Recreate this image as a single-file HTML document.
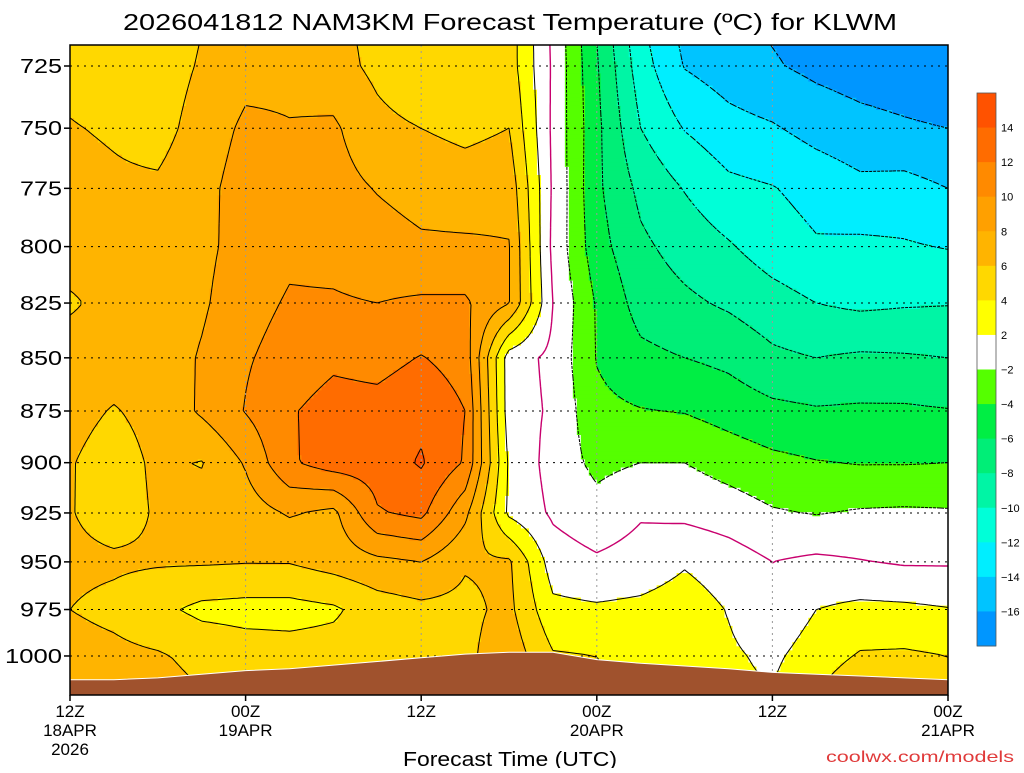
<!DOCTYPE html>
<html><head><meta charset="utf-8"><style>
html,body{margin:0;padding:0;background:#fff;}
svg text{font-family:"Liberation Sans",sans-serif;}
</style></head><body>
<svg id="chart" width="1024" height="768" xmlns="http://www.w3.org/2000/svg">
<rect width="1024" height="768" fill="#fff"/>
<text x="510" y="30" font-size="23" text-anchor="middle" fill="#000" textLength="774" lengthAdjust="spacingAndGlyphs">2026041812 NAM3KM Forecast Temperature (ºC) for KLWM</text>
<defs><clipPath id="plotclip"><rect x="70" y="45" width="878" height="650"/></clipPath></defs>
<g id="field" clip-path="url(#plotclip)"></g>
<g id="contours" clip-path="url(#plotclip)"></g>
<g id="grid"></g>
<g id="terrain" clip-path="url(#plotclip)"></g>
<rect x="70" y="45" width="878" height="650" fill="none" stroke="#000" stroke-width="1.5"/>
<g id="yaxis"></g>
<g id="xaxis"></g>
<text x="510" y="766" font-size="20" text-anchor="middle" fill="#000" textLength="214" lengthAdjust="spacingAndGlyphs">Forecast Time (UTC)</text>
<text x="826" y="762" font-size="16" fill="#e03a3a" font-family="Liberation Mono, monospace" textLength="188" lengthAdjust="spacingAndGlyphs">coolwx.com/models</text>
<g id="colorbar"></g>
</svg>
<script>
const times=[0,3,6,9,12,15,18,21,24,27,30,33,36,39,42,45,48,51,54,57,60];
const pressures=[700,725,750,775,800,825,850,875,900,925,950,975,1000,1025];
const t700=[5.0,4.8,4.8,5.8,7.0,7.2,6.5,5.2,4.0,4.2,5.0,-0.5,-6.3,-12,-15,-16,-16.5,-17,-17.5,-18,-18.5];
const t725=[5.5,5,5,6.2,7.3,7.5,6.8,5.5,4.2,4.5,5.0,-0.3,-5.8,-11.1,-14.1,-15,-15.8,-16.5,-17,-17.3,-17.8];
const t750=[6.1,5.8,5.3,6.8,8.4,8.1,8.3,6.6,6.0,5.5,6.0,-0.4,-5.5,-10,-12.1,-13.3,-13.8,-14.7,-15.3,-15.7,-16.0];
const t775=[6.6,6.3,6.3,7.3,9.0,8.8,8.7,7.9,7.3,7.0,7.3,-0.3,-5.6,-8.5,-10.1,-11.5,-11.9,-12.7,-13.5,-13.3,-14.0];
const t800=[6.7,6.6,6.7,7.5,8.8,9.6,9.4,8.8,8.3,8.3,8.1,-0.5,-5.2,-7.6,-8.8,-9.8,-11,-11.8,-11.6,-11.8,-12.1];
const t825=[5.8,6.5,6.7,7.7,9.3,10.2,10.2,10.0,10.3,10.3,8.1,0,-4.2,-6.8,-7.6,-8.3,-9.2,-10.0,-10.4,-10.2,-10.1];
const t850=[6.7,6.7,6.8,8.2,9.8,10.8,11.6,11.3,12.1,11.2,1.0,-0.5,-4.1,-5.5,-6.0,-6.5,-7.6,-8,-7.7,-7.8,-8];
const t875=[6.5,5.9,6.5,8.3,10.1,11.8,12.8,12.7,13.5,12.0,1.0,-0.3,-3.5,-3.9,-4.1,-4.8,-5.5,-5.8,-5.7,-5.7,-5.9];
const t900=[6.1,5.3,6.3,5.9,8.2,11.7,13,13,14.2,11.8,1.7,-0.8,-2.5,-2.0,-2.0,-2.8,-3.5,-3.9,-4.1,-4.1,-4.0];
const t925=[6.1,5.2,6.2,6.8,7.0,8.2,7.5,11.8,12.5,8.5,1.6,-0.3,-1.3,-0.2,-0.5,-1.0,-1.8,-2.1,-1.8,-1.7,-1.8];
const t950=[6.4,6.3,6.2,6.2,6.1,6.1,6.8,7.5,8.0,6.2,6.3,1.0,0.3,0.8,1.8,1.0,0.0,0.4,0.1,-0.2,-0.2];
const t975=[6.0,5.5,4.5,3.5,3.3,3.3,3.7,5.0,5.5,5.5,6.5,2.5,2.3,2.5,3.0,1.9,0.5,2.0,2.5,2.4,2.1];
const t1000=[6.8,6.5,6.2,5.5,5.0,4.8,4.8,4.8,5.0,5.5,7.3,4.2,4.0,3.0,2.7,2.3,1.6,3.0,4.2,4.3,4.0];
const t1025=[7.5,8.0,6.8,6.2,5.5,5.2,5.0,5.0,5.2,5.8,7.5,4.6,4.5,3.5,3.0,2.5,2.2,4.2,6.0,5.0,4.5];
const temps=[t700,t725,t750,t775,t800,t825,t850,t875,t900,t925,t950,t975,t1000,t1025];
const surfacePressure=[1013,1013,1012,1010,1008,1007,1005,1003,1001,999,998,998,1002,1004,1005.5,1007,1009,1010,1011,1012,1013];
const yTicks=[725,750,775,800,825,850,875,900,925,950,975,1000];
const xTickHours=[0,12,24,36,48,60];
const xTickLabels=[["12Z","18APR","2026"],["00Z","19APR"],["12Z"],["00Z","20APR"],["12Z"],["00Z","21APR"]];
const cbLabels=["14","12","10","8","6","4","2","−2","−4","−6","−8","−10","−12","−14","−16"];

const NS="http://www.w3.org/2000/svg";
const X0=70,X1=948,Y0=45,Y1=695;
function xOf(t){return X0+t*(X1-X0)/60;}
function yOf(p){return 66+1834.6*(Math.log(p)-Math.log(725));}
const rowY=pressures.map(yOf);
function valAt(x,y){
  let t=(x-X0)/(X1-X0)*60;
  let i=Math.min(times.length-2,Math.max(0,Math.floor(t/3)));
  let fx=(t-times[i])/3;
  let j=0;while(j<rowY.length-2&&y>rowY[j+1])j++;
  let fy=(y-rowY[j])/(rowY[j+1]-rowY[j]);
  const a=temps[j][i],b=temps[j][i+1],c=temps[j+1][i],d=temps[j+1][i+1];
  return (a*(1-fx)+b*fx)*(1-fy)+(c*(1-fx)+d*fx)*fy;
}
const warm=['#ffff00','#ffd800','#ffb400','#ffa000','#ff8a00','#ff6c00','#ff5200'];
const cold=['#55ff00','#00ee44','#00ee77','#00f5a5','#00ffd8','#00eeff','#00c4ff','#0096ff'];
function colorOf(v){
  if(v>=-2&&v<2)return '#ffffff';
  if(v>=2)return warm[Math.min(6,Math.floor((v-2)/2))];
  return cold[Math.min(7,Math.floor((-2-v)/2))];
}
function mk(tag,attrs,parent){const e=document.createElementNS(NS,tag);for(const k in attrs)e.setAttribute(k,attrs[k]);parent.appendChild(e);return e;}

const field=document.getElementById('field');
const NX=220,NY=160,dx=(X1-X0)/NX,dy=(Y1-Y0)/NY;
for(let r=0;r<NY;r++){
  let y=Y0+(r+0.5)*dy;let start=0;let cur=colorOf(valAt(X0+0.5*dx,y));
  for(let c=1;c<=NX;c++){
    const col=c<NX?colorOf(valAt(X0+(c+0.5)*dx,y)):null;
    if(col!==cur){
      const e=mk('rect',{x:(X0+start*dx).toFixed(2),y:(Y0+r*dy).toFixed(2),width:((c-start)*dx+0.6).toFixed(2),height:(dy+0.6).toFixed(2),fill:cur},field);
      
      
      start=c;cur=col;
    }
  }
}
const nodes=[];
for(let r=0;r<=NY;r++){const row=[];for(let c=0;c<=NX;c++)row.push(valAt(X0+c*dx,Y0+r*dy));nodes.push(row);}
const cg=document.getElementById('contours');
for(let L=-16;L<=14;L+=2){
  let d='';
  for(let r=0;r<NY;r++)for(let c=0;c<NX;c++){
    const v=[nodes[r][c],nodes[r][c+1],nodes[r+1][c+1],nodes[r+1][c]];
    const px=[X0+c*dx,X0+(c+1)*dx,X0+(c+1)*dx,X0+c*dx],py=[Y0+r*dy,Y0+r*dy,Y0+(r+1)*dy,Y0+(r+1)*dy];
    const pts=[];
    for(let k=0;k<4;k++){const a=v[k],b=v[(k+1)%4];
      if((a<L)!==(b<L)){const f=(L-a)/(b-a);pts.push([px[k]+(px[(k+1)%4]-px[k])*f,py[k]+(py[(k+1)%4]-py[k])*f]);}}
    for(let k=0;k+1<pts.length;k+=2)d+='M'+pts[k][0].toFixed(1)+' '+pts[k][1].toFixed(1)+'L'+pts[k+1][0].toFixed(1)+' '+pts[k+1][1].toFixed(1);
  }
  if(d){const p=mk('path',{d:d,fill:'none',stroke:L===0?'#c8006e':'#000','stroke-width':L===0?1.4:1,'stroke-dasharray':L<0?'3,2':'none'},cg);
    
    }
}
const grid=document.getElementById('grid');
yTicks.forEach(p=>{const y=yOf(p);
  const l=mk('line',{x1:X0,x2:X1,y1:y,y2:y,stroke:'#000','stroke-width':1,'stroke-dasharray':'2,5'},grid);
  
  });
xTickHours.slice(1,-1).forEach(h=>{const x=xOf(h);
  const l=mk('line',{x1:x,x2:x,y1:Y0,y2:Y1,stroke:'#999','stroke-width':1,'stroke-dasharray':'2,4'},grid);
  
  });
const tg=document.getElementById('terrain');
let tp=times.map((t,i)=>xOf(t).toFixed(1)+','+yOf(surfacePressure[i]).toFixed(1));
const poly=mk('polygon',{points:X0+','+(Y1+2)+' '+tp.join(' ')+' '+X1+','+(Y1+2),fill:'#a0522d',stroke:'#fff','stroke-width':1},tg);


const ya=document.getElementById('yaxis');
yTicks.forEach(p=>{const y=yOf(p);
  const tk=mk('line',{x1:X0-6,x2:X0,y1:y,y2:y,stroke:'#000','stroke-width':1.5},ya);
  
  
  const s=String(p);
  const t=mk('text',{x:62,y:y+7,'font-size':20,'text-anchor':'end',fill:'#000',textLength:s.length===4?57:42,lengthAdjust:'spacingAndGlyphs'},ya);t.textContent=s;
  
  });
const xa=document.getElementById('xaxis');
xTickHours.forEach((h,i)=>{const x=xOf(h);
  const tk=mk('line',{x1:x,x2:x,y1:Y1,y2:Y1+6,stroke:'#000','stroke-width':1.5},xa);
  
  
  xTickLabels[i].forEach((s,k)=>{const t=mk('text',{x:x,y:717+k*19,'font-size':17,'text-anchor':'middle',fill:'#000'},xa);t.textContent=s;
    
    });});
const cb=document.getElementById('colorbar');
const cbCols=[warm[6],warm[5],warm[4],warm[3],warm[2],warm[1],warm[0],'#ffffff'].concat(cold);
const segH=(646-93)/16;
cbCols.forEach((c,i)=>{const r=mk('rect',{x:977,y:(93+i*segH).toFixed(2),width:19,height:(segH+0.5).toFixed(2),fill:c},cb);
  
  });
mk('rect',{x:977,y:93,width:19,height:553,fill:'none',stroke:'#555','stroke-width':0.8},cb);
cbLabels.forEach((s,i)=>{const t=mk('text',{x:1001,y:(93+(i+1)*segH+4).toFixed(1),'font-size':11,fill:'#000'},cb);t.textContent=s;
  
  });
</script>
</body></html>
